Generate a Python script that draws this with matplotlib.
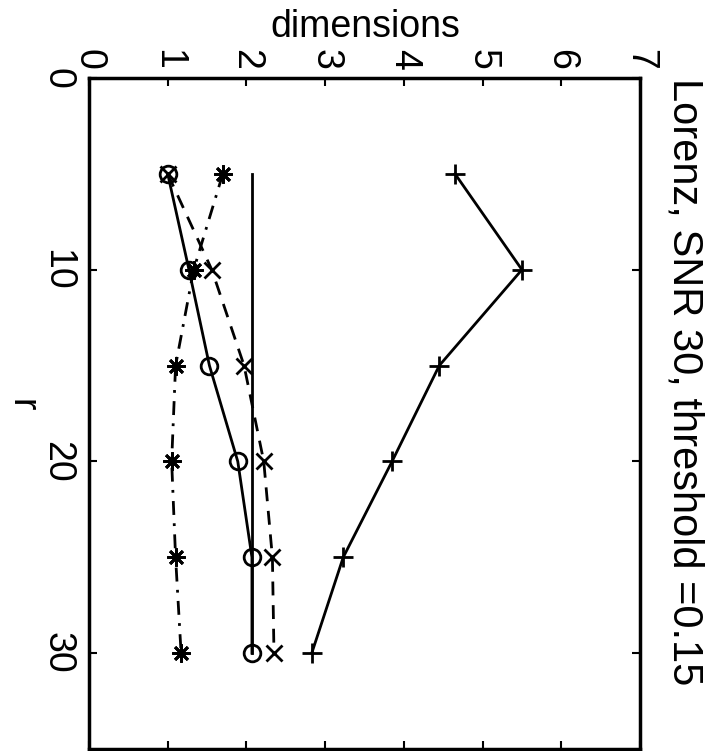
import matplotlib
matplotlib.use("Agg")
import matplotlib.pyplot as plt

plt.rcParams['font.family'] = ['Liberation Sans', 'DejaVu Sans']

r = [5, 10, 15, 20, 25, 30]
dim_plus = [4.65, 5.5, 4.45, 3.85, 3.23, 2.83]
dim_circle = [1.0, 1.27, 1.53, 1.89, 2.07, 2.07]
dim_cross = [1.0, 1.56, 1.97, 2.22, 2.33, 2.35]
dim_star = [1.7, 1.33, 1.10, 1.05, 1.10, 1.17]
dim_const = [2.07, 2.07, 2.07, 2.07, 2.07, 2.07]

dim_ticks = [0, 1, 2, 3, 4, 5, 6, 7]
r_ticks = [0, 10, 20, 30]

title = "Lorenz, SNR 30, threshold =0.15"
xlabel = "r"
ylabel = "dimensions"

W, H = 717, 751
fig = plt.figure(figsize=(W / 100, H / 100), dpi=100)
ax = fig.add_axes([89 / W, 1 - 749 / H, (640 - 89) / W, (749 - 78) / H])

lw = 2.0
ms = 14
ax.plot(dim_plus, r, color='k', lw=lw, marker='+', ms=ms, mew=2)
ax.plot(dim_circle, r, color='k', lw=lw, marker='o', ms=12, mew=2, mfc='none')
ax.plot(dim_cross, r, color='k', lw=lw, ls=(0, (5, 3.5)), marker='x', ms=12, mew=2)
ax.plot(dim_star, r, color='k', lw=lw, ls=(0, (5, 3, 1, 3)), marker=(8, 2, 0), ms=13, mew=2)
ax.plot(dim_const, r, color='k', lw=lw)

ax.set_xlim(0, 7)
ax.set_ylim(35, 0)
ax.set_xticks(dim_ticks)
ax.set_yticks(r_ticks)
ax.xaxis.tick_top()
ax.tick_params(axis='both', direction='in', length=6, width=1.5,
               top=True, bottom=True, left=True, right=True,
               labeltop=True, labelbottom=False, labelsize=27)
ax.tick_params(axis='x', pad=6)
ax.tick_params(axis='y', pad=10)
ax.set_xticklabels([str(t) for t in dim_ticks], rotation=-90, ha='center', va='bottom')
ax.set_yticklabels([str(t) for t in r_ticks], rotation=-90, ha='right', va='center')
for s in ax.spines.values():
    s.set_linewidth(2.5)

fig.text(365 / W, 1 - 27 / H, ylabel, ha='center', va='center', fontsize=27)
fig.text(22 / W, 1 - 405 / H, xlabel, ha='center', va='center', fontsize=27, rotation=-90)
fig.text(684 / W, 1 - 382 / H, title, ha='center', va='center', fontsize=30, rotation=-90)

fig.savefig("out.png", dpi=100)
